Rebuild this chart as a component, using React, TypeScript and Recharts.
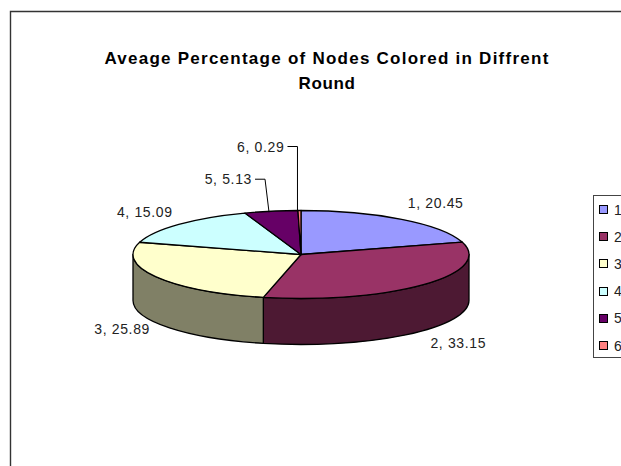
import React from "react";
import { PieChart, Pie, Legend } from "recharts";

const rounds = ["1", "2", "3", "4", "5", "6"];
const percentages = [20.45, 33.15, 25.89, 15.09, 5.13, 0.29];
const fills = ["#9999FF", "#993366", "#FFFFCC", "#CCFFFF", "#660066", "#FF8080"];
const walls = ["#4D4D80", "#4D1933", "#808066", "#668080", "#330033", "#804040"];

const tableData = rounds.map((name, i) => ({
    name,
    value: percentages[i],
    fill: fills[i],
    wall: walls[i],
}));

const FONT = "'Liberation Sans', Arial, sans-serif";
const RX = 168;
const RY = 44;
const DEPTH = 46;

// label position relative to the slice's rim point, elbow = leader line
const labelOffsets = [
    { dx: 34, dy: -16 },
    { dx: 35, dy: 58 },
    { dx: -34, dy: 52 },
    { dx: -34, dy: -12 },
    { dx: -19, dy: -32, elbow: true },
    { dx: -15, dy: -64, elbow: true },
];

const rim = (cx: number, cy: number, deg: number) => {
    const a = (deg * Math.PI) / 180;
    return [cx + RX * Math.cos(a), cy - RY * Math.sin(a)];
};

// flattened slice with its outer wall; recharts supplies the angles
const TiltedSlice = (props: any) => {
    const { cx, cy, startAngle, endAngle, payload } = props;
    const fill = payload.fill;
    const wall = payload.wall;
    const [sx, sy] = rim(cx, cy, startAngle);
    const [ex, ey] = rim(cx, cy, endAngle);
    const large = startAngle - endAngle > 180 ? 1 : 0;
    const top = `M${cx},${cy} L${sx},${sy} A${RX},${RY} 0 ${large} 1 ${ex},${ey} Z`;

    const from = Math.min(startAngle, 0);
    const to = Math.max(endAngle, -180);
    let side = null;
    if (from > to) {
        const [ax, ay] = rim(cx, cy, from);
        const [bx, by] = rim(cx, cy, to);
        side = (
            <path
                d={`M${ax},${ay} A${RX},${RY} 0 0 1 ${bx},${by} L${bx},${by + DEPTH} A${RX},${RY} 0 0 0 ${ax},${ay + DEPTH} Z`}
                fill={wall}
                stroke="#000"
                strokeWidth={1.3}
                strokeLinejoin="round"
            />
        );
    }
    return (
        <g>
            {side}
            <path d={top} fill={fill} stroke="#000" strokeWidth={1.3} strokeLinejoin="round" />
        </g>
    );
};

const SliceLabel = (props: any) => {
    const { cx, cy, midAngle, index, name, value } = props;
    const [ax, ay] = rim(cx, cy, midAngle);
    const off = labelOffsets[index];
    const lx = ax + off.dx;
    const ly = ay + off.dy;
    return (
        <g>
            {off.elbow && (
                <polyline
                    points={`${lx + 3},${ly} ${lx + 13},${ly} ${ax - 2},${ay + 1}`}
                    fill="none"
                    stroke="#000"
                    strokeWidth={1}
                />
            )}
            <text
                x={lx}
                y={ly}
                textAnchor={off.elbow ? "end" : "middle"}
                dominantBaseline="central"
                fontFamily={FONT}
                fontSize={14}
                letterSpacing={0.65}
                fill="#222"
            >
                {`${name}, ${value}`}
            </text>
        </g>
    );
};

const RoundLegend = () => (
    <div
        style={{
            width: 60,
            height: 163,
            border: "1px solid #444",
            background: "#fff",
            fontFamily: FONT,
            fontSize: 14,
            color: "#222",
            boxSizing: "border-box",
        }}
    >
        {tableData.map((d) => (
            <div key={d.name} style={{ display: "flex", alignItems: "center", height: 27.2 }}>
                <span
                    style={{
                        width: 9,
                        height: 9,
                        marginLeft: 5,
                        marginRight: 6,
                        boxSizing: "border-box",
                        background: d.fill,
                        border: "1px solid #000",
                    }}
                />
                {d.name}
            </div>
        ))}
    </div>
);

const App = () => {
    return (
        <div style={{ position: "absolute", left: 0, top: 0, width: 621, height: 466, overflow: "hidden" }}>
            <PieChart width={621} height={466} margin={{ top: 0, right: 0, bottom: 0, left: 0 }}>
                <path d="M10.5,466 L10.5,11.5 L621,11.5" fill="none" stroke="#333" strokeWidth={1.4} />
                <text x={327} y={64} textAnchor="middle" fontFamily={FONT} fontSize={17} letterSpacing={1.25} fontWeight="bold" fill="#000">
                    Aveage Percentage of Nodes Colored in Diffrent
                </text>
                <text x={327} y={89} textAnchor="middle" fontFamily={FONT} fontSize={17} letterSpacing={0.6} fontWeight="bold" fill="#000">
                    Round
                </text>
                <Pie
                    data={tableData}
                    dataKey="value"
                    nameKey="name"
                    cx={301}
                    cy={254.5}
                    outerRadius={RX}
                    startAngle={90}
                    endAngle={-270}
                    stroke="#000"
                    shape={TiltedSlice}
                    label={SliceLabel}
                    labelLine={false}
                    isAnimationActive={false}
                />
                <Legend
                    content={RoundLegend}
                    wrapperStyle={{ position: "absolute", left: 593, top: 195, width: 60, height: 163 }}
                />
            </PieChart>
        </div>
    );
};

export default App;
